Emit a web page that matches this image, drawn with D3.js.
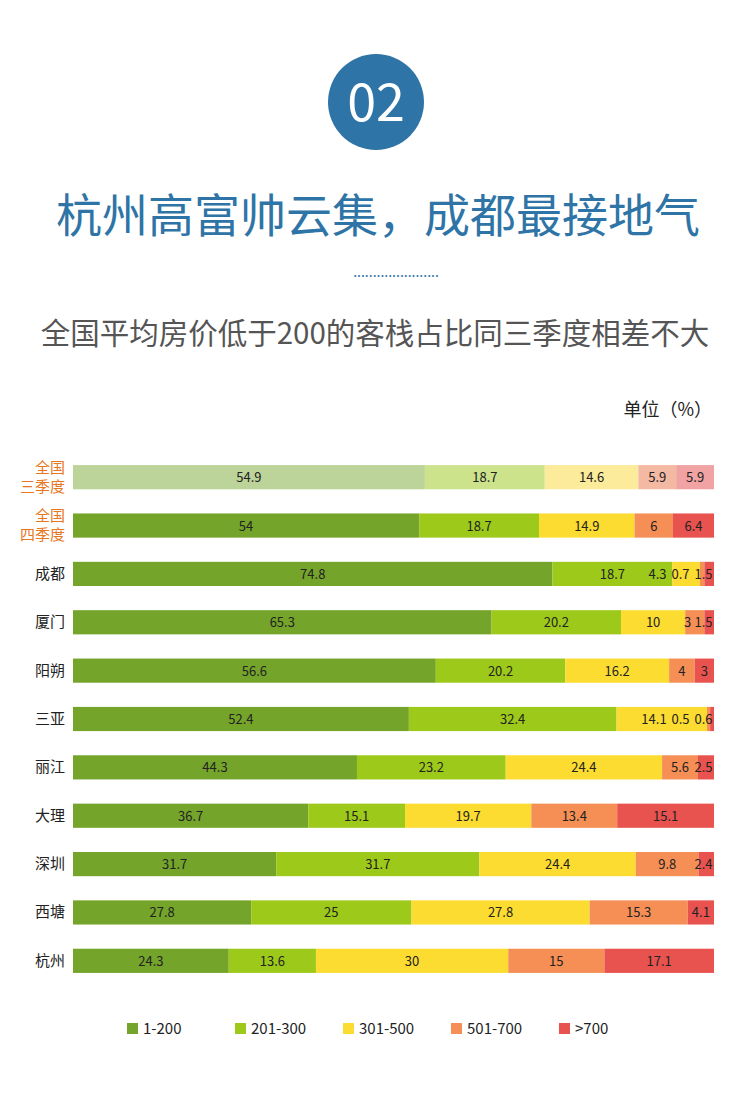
<!DOCTYPE html>
<meta charset="utf-8">
<script src="https://d3js.org/d3.v7.min.js"></script>
<style>body{margin:0;background:#fff}text{font-family:"Noto Sans CJK SC","Liberation Sans",sans-serif}</style>
<div id="chart"></div>
<script>
// Data
const cities = ["全国\n三季度", "全国\n四季度", "成都", "厦门", "阳朔", "三亚", "丽江", "大理", "深圳", "西塘", "杭州"];
const ranges = ["1-200", "201-300", "301-500", "501-700", ">700"];
const values = [
  [54.9, 18.7, 14.6, 5.9, 5.9],
  [54, 18.7, 14.9, 6, 6.4],
  [74.8, 18.7, 4.3, 0.7, 1.5],
  [65.3, 20.2, 10, 3, 1.5],
  [56.6, 20.2, 16.2, 4, 3],
  [52.4, 32.4, 14.1, 0.5, 0.6],
  [44.3, 23.2, 24.4, 5.6, 2.5],
  [36.7, 15.1, 19.7, 13.4, 15.1],
  [31.7, 31.7, 24.4, 9.8, 2.4],
  [27.8, 25, 27.8, 15.3, 4.1],
  [24.3, 13.6, 30, 15, 17.1]
];
const colors = ["#74a52a", "#9dc91a", "#fcdc30", "#f58f55", "#e8524f"];
const fadedColors = ["#bcd49a", "#cce38c", "#fbeb9a", "#f4b9a3", "#f0a3a2"];

const width = 750, height = 1102;
const svg = d3.select("#chart").append("svg").attr("width", width).attr("height", height);

// Header
svg.append("circle").attr("cx", 376).attr("cy", 102).attr("r", 48).attr("fill", "#2f74a6");
svg.append("text").attr("x", 376).attr("y", 121).attr("text-anchor", "middle")
  .attr("fill", "#fff").attr("font-size", 52).attr("font-family", "Liberation Sans").text("02");
svg.append("text").attr("x", 378).attr("y", 232).attr("text-anchor", "middle")
  .attr("fill", "#2f74a6").attr("font-size", 46).text("杭州高富帅云集，成都最接地气");
svg.append("text").attr("x", 396).attr("y", 277).attr("text-anchor", "middle")
  .attr("fill", "#2f74a6").attr("font-size", 14).attr("font-family", "Liberation Sans").text("......................");
svg.append("text").attr("x", 375).attr("y", 344).attr("text-anchor", "middle")
  .attr("fill", "#555").attr("font-size", 29.5).text("全国平均房价低于200的客栈占比同三季度相差不大");
svg.append("text").attr("x", 712).attr("y", 416).attr("text-anchor", "end")
  .attr("fill", "#222").attr("font-size", 18).text("单位（%）");

// Scales
const x = d3.scaleLinear().domain([0, 100]).range([73, 714]);
const y = d3.scaleBand().domain(cities).range([453, 985]).paddingInner(0.5).paddingOuter(0.25);

const rows = svg.append("g").selectAll("g").data(values).join("g")
  .attr("transform", (d, i) => `translate(0,${y(cities[i])})`);

rows.each(function(row, i) {
  let acc = 0;
  const segs = row.map((v, j) => { const s = {v, j, x0: acc}; acc += v; return s; });
  // label positions: centre of segment, pushed left so small labels don't collide
  segs.forEach(s => { s.w = String(s.v).length * 7; s.lx = x(s.x0 + s.v / 2); });
  for (let k = segs.length - 1; k >= 0; k--) {
    const lim = k === segs.length - 1 ? 714 - segs[k].w / 2 : segs[k + 1].lx - (segs[k].w + segs[k + 1].w) / 2 - 2;
    segs[k].lx = Math.min(segs[k].lx, lim);
  }
  const g = d3.select(this);
  const pal = i === 0 ? fadedColors : colors;
  g.selectAll("rect").data(segs).join("rect")
    .attr("x", d => x(d.x0)).attr("width", d => x(d.x0 + d.v) - x(d.x0))
    .attr("height", y.bandwidth()).attr("fill", d => pal[d.j]);
  g.selectAll("text.v").data(segs).join("text").attr("class", "v")
    .attr("x", d => d.lx)
    .attr("y", y.bandwidth() / 2 + 5).attr("text-anchor", "middle")
    .attr("font-size", 13).attr("fill", "#222").text(d => d.v);
  const lines = cities[i].split("\n");
  const lab = g.append("text").attr("text-anchor", "end").attr("font-size", 15)
    .attr("fill", lines.length > 1 ? "#e87722" : "#222");
  lines.forEach((t, k) => lab.append("tspan").attr("x", 65)
    .attr("y", y.bandwidth() / 2 + 5 + (k - (lines.length - 1) / 2) * 19).text(t));
});

// Legend
const lg = svg.append("g").selectAll("g").data(ranges).join("g")
  .attr("transform", (d, i) => `translate(${127 + i * 108},1023)`);
lg.append("rect").attr("width", 11).attr("height", 11).attr("fill", (d, i) => colors[i]);
lg.append("text").attr("x", 16).attr("y", 11).attr("font-size", 15).attr("fill", "#222").text(d => d);
</script>
